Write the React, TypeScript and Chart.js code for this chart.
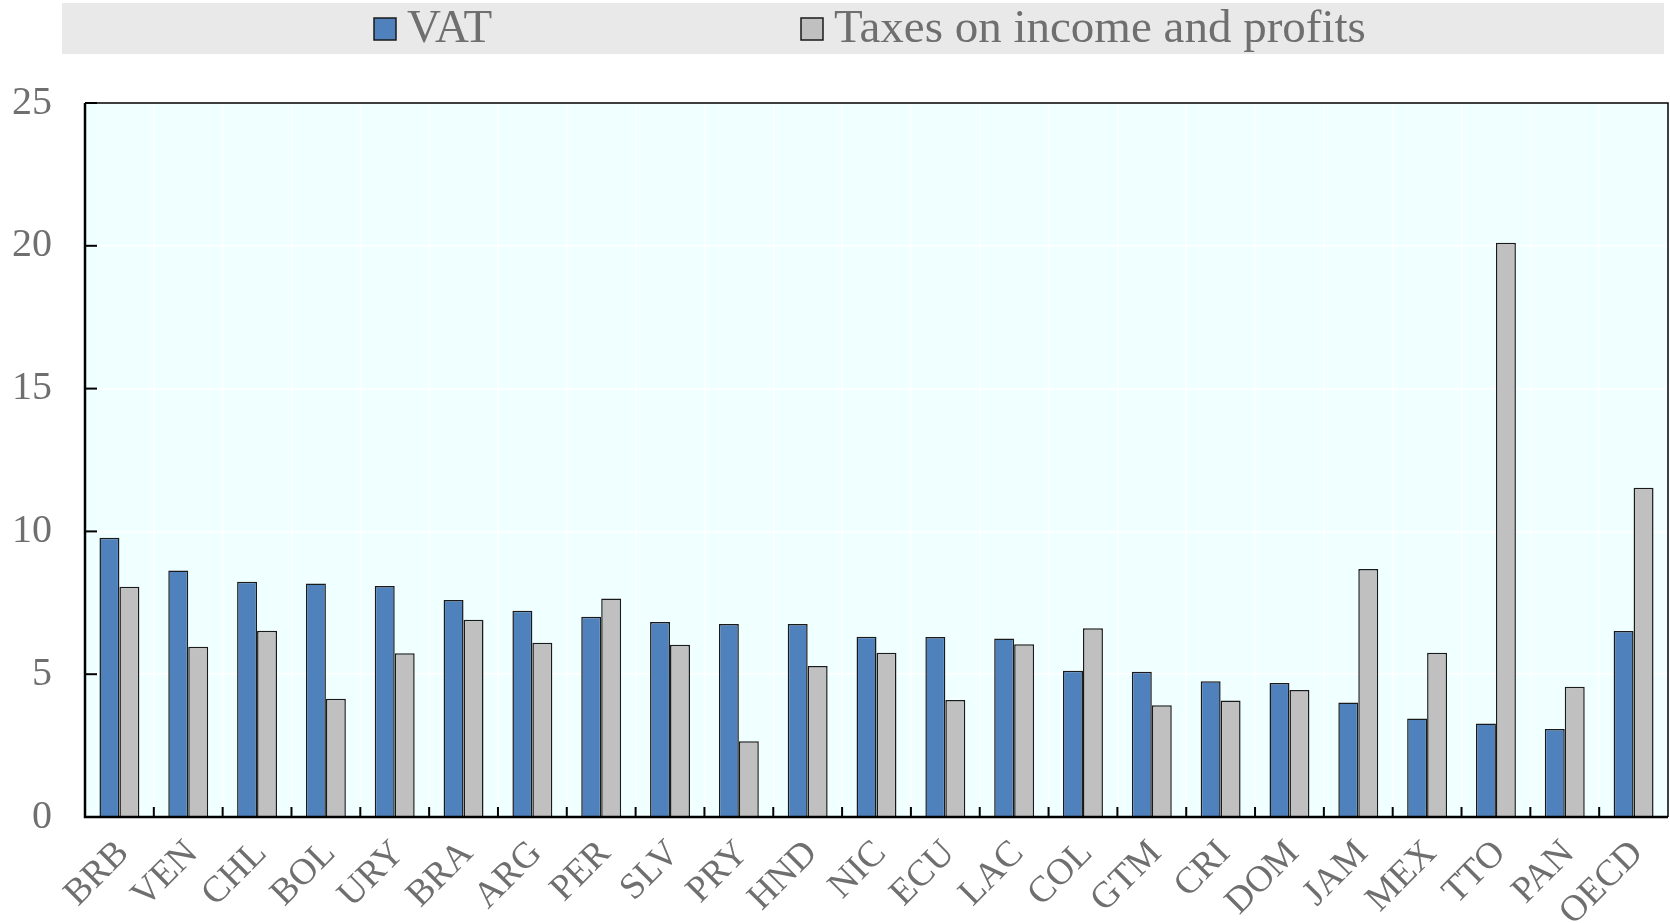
import React, { useEffect, useRef } from "react";
import { Chart, registerables } from "chart.js";

Chart.register(...registerables);

const categories = ["BRB","VEN","CHL","BOL","URY","BRA","ARG","PER","SLV","PRY","HND","NIC","ECU","LAC","COL","GTM","CRI","DOM","JAM","MEX","TTO","PAN","OECD"];
const vatValues = [9.78,8.63,8.24,8.18,8.09,7.60,7.22,7.01,6.83,6.76,6.76,6.31,6.30,6.25,5.12,5.09,4.75,4.69,4.01,3.45,3.27,3.08,6.51];
const incomeValues = [8.06,5.96,6.52,4.14,5.73,6.91,6.10,7.65,6.03,2.65,5.29,5.75,4.10,6.05,6.61,3.91,4.08,4.45,8.68,5.75,20.11,4.56,11.53];
const seriesNames = ["VAT", "Taxes on income and profits"];
const yTicks = [0, 5, 10, 15, 20, 25];

const BLUE = "#4f81bd";
const GREY = "#c0c0c0";
const TEXT = "#6f6f6f";
const FONT = "'Liberation Serif', 'Times New Roman', serif";

const framePlugin = {
  id: "frame",
  beforeDraw(chart: any) {
    const { ctx, chartArea } = chart;
    ctx.save();
    ctx.fillStyle = "#ffffff";
    ctx.fillRect(0, 0, chart.width, chart.height);
    // plot background
    ctx.fillStyle = "#f0ffff";
    ctx.fillRect(chartArea.left, chartArea.top, chartArea.right - chartArea.left, chartArea.bottom - chartArea.top);
    // legend box
    ctx.fillStyle = "#e9e9e9";
    ctx.fillRect(62, 3, 1602, 51);
    const items = [
      { x: 374, color: BLUE, label: seriesNames[0] },
      { x: 801, color: GREY, label: seriesNames[1] },
    ];
    ctx.font = `47px ${FONT}`;
    ctx.textBaseline = "alphabetic";
    ctx.textAlign = "left";
    for (const it of items) {
      ctx.fillStyle = it.color;
      ctx.fillRect(it.x, 18, 22, 22);
      ctx.lineWidth = 1.5;
      ctx.strokeStyle = "#1a1a1a";
      ctx.strokeRect(it.x, 18, 22, 22);
      ctx.fillStyle = TEXT;
      ctx.fillText(it.label, it.x + 33, 42);
    }
    ctx.restore();
  },
  afterDatasetsDraw(chart: any) {
    const { ctx, chartArea, scales } = chart;
    const { left, right, top, bottom } = chartArea;
    ctx.save();
    ctx.strokeStyle = "#000000";
    // y tick marks inward
    ctx.lineWidth = 2;
    for (const v of yTicks) {
      const y = scales.y.getPixelForValue(v);
      ctx.beginPath();
      ctx.moveTo(left, y);
      ctx.lineTo(left + 12, y);
      ctx.stroke();
    }
    // x tick marks at category boundaries
    const n = categories.length;
    const step = (right - left) / n;
    for (let i = 1; i < n; i++) {
      const x = left + step * i;
      ctx.beginPath();
      ctx.moveTo(x, bottom);
      ctx.lineTo(x, bottom - 10);
      ctx.stroke();
    }
    // border
    ctx.lineWidth = 1.5;
    ctx.beginPath();
    ctx.moveTo(left, top);
    ctx.lineTo(right, top);
    ctx.lineTo(right, bottom);
    ctx.stroke();
    ctx.lineWidth = 2.5;
    ctx.beginPath();
    ctx.moveTo(left, top);
    ctx.lineTo(left, bottom);
    ctx.lineTo(right, bottom);
    ctx.stroke();
    ctx.restore();
  },
};

export default function App() {
  const canvasRef = useRef<HTMLCanvasElement | null>(null);

  useEffect(() => {
    document.body.style.margin = "0";
    const canvas = canvasRef.current;
    if (!canvas) return;
    const chart = new Chart(canvas, {
      type: "bar",
      data: {
        labels: categories,
        datasets: [
          {
            label: seriesNames[0],
            data: vatValues,
            backgroundColor: BLUE,
            borderColor: "#1a1a1a",
            borderWidth: 1.5,
            barPercentage: 1,
            categoryPercentage: 0.58,
          },
          {
            label: seriesNames[1],
            data: incomeValues,
            backgroundColor: GREY,
            borderColor: "#1a1a1a",
            borderWidth: 1.5,
            barPercentage: 1,
            categoryPercentage: 0.58,
          },
        ],
      },
      options: {
        responsive: false,
        animation: false,
        maintainAspectRatio: false,
        layout: { padding: { top: 103, right: 2, left: 0, bottom: 0 } },
        plugins: {
          legend: { display: false },
          tooltip: { enabled: false },
          title: { display: false },
        },
        scales: {
          x: {
            grid: { color: "#ffffff", lineWidth: 1.5, drawTicks: false },
            border: { display: false },
            ticks: {
              maxRotation: 45,
              minRotation: 45,
              autoSkip: false,
              padding: 15,
              labelOffset: 4,
              color: TEXT,
              font: { family: FONT, size: 37 },
            },
            afterFit(scale: any) {
              scale.height = 106;
              scale.paddingLeft = 0;
              scale.paddingRight = 0;
            },
          },
          y: {
            min: 0,
            max: 25,
            afterBuildTicks(scale: any) {
              scale.ticks = yTicks.map((v) => ({ value: v }));
            },
            grid: { color: "#ffffff", lineWidth: 1.5, drawTicks: false },
            border: { display: false },
            ticks: {
              padding: 33,
              color: TEXT,
              font: { family: FONT, size: 40 },
            },
            afterFit(scale: any) {
              scale.width = 85;
            },
          },
        },
      },
      plugins: [framePlugin],
    });
    return () => chart.destroy();
  }, []);

  return (
    <div style={{ position: "absolute", left: 0, top: 0, width: 1670, height: 923 }}>
      <canvas ref={canvasRef} width={1670} height={923} style={{ width: 1670, height: 923, display: "block" }} />
    </div>
  );
}
